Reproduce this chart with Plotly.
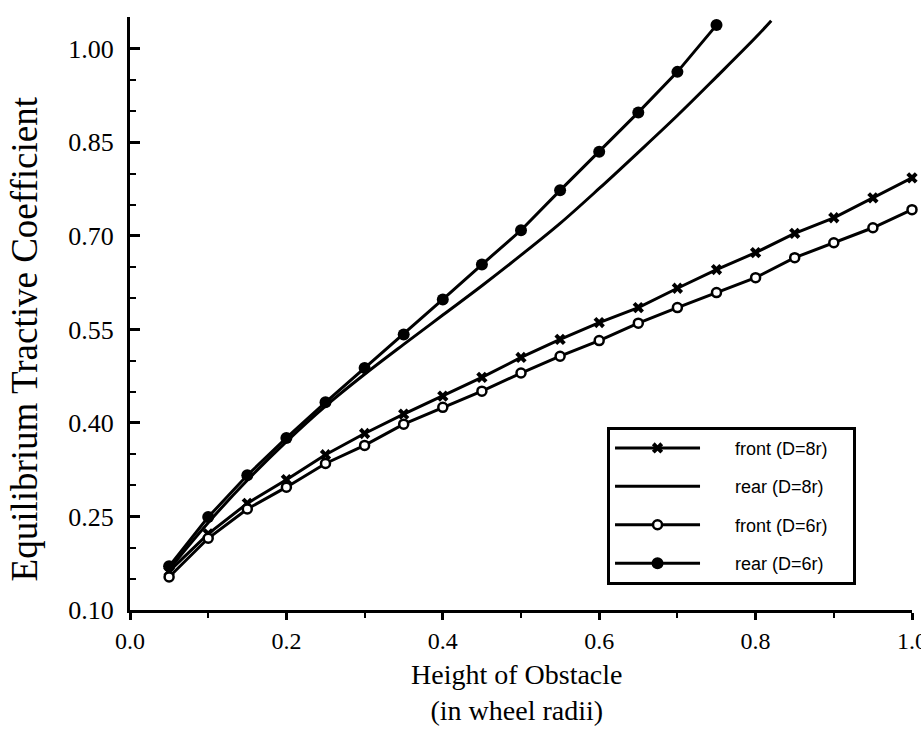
import plotly.graph_objects as go

# ---- data ----
x_front = [0.05, 0.10, 0.15, 0.20, 0.25, 0.30, 0.35, 0.40, 0.45, 0.50,
           0.55, 0.60, 0.65, 0.70, 0.75, 0.80, 0.85, 0.90, 0.95, 1.00]
front_d8 = [0.162, 0.222, 0.271, 0.309, 0.349, 0.383, 0.414, 0.443, 0.473, 0.505,
            0.534, 0.561, 0.585, 0.616, 0.646, 0.673, 0.704, 0.729, 0.761, 0.793]
front_d6 = [0.153, 0.215, 0.262, 0.297, 0.335, 0.364, 0.398, 0.425, 0.451, 0.480,
            0.507, 0.532, 0.560, 0.585, 0.609, 0.633, 0.665, 0.689, 0.713, 0.742]

x_rear8 = [0.05, 0.10, 0.15, 0.20, 0.25, 0.30, 0.35, 0.40, 0.45, 0.50,
           0.55, 0.60, 0.65, 0.70, 0.75, 0.80, 0.82]
rear_d8 = [0.165, 0.240, 0.308, 0.370, 0.427, 0.478, 0.526, 0.573, 0.620, 0.669,
           0.720, 0.776, 0.834, 0.893, 0.955, 1.018, 1.045]

x_rear6 = [0.05, 0.10, 0.15, 0.20, 0.25, 0.30, 0.35, 0.40, 0.45, 0.50,
           0.55, 0.60, 0.65, 0.70, 0.75]
rear_d6 = [0.170, 0.249, 0.316, 0.376, 0.433, 0.488, 0.542, 0.598, 0.654, 0.709,
           0.773, 0.835, 0.898, 0.963, 1.038]

series_names = ["front (D=8r)", "rear (D=8r)", "front (D=6r)", "rear (D=6r)"]

x_ticks = [0.0, 0.2, 0.4, 0.6, 0.8, 1.0]
x_ticklabels = ["0.0", "0.2", "0.4", "0.6", "0.8", "1.0"]
y_ticks = [0.10, 0.25, 0.40, 0.55, 0.70, 0.85, 1.00]
y_ticklabels = ["0.10", "0.25", "0.40", "0.55", "0.70", "0.85", "1.00"]

SERIF = "Liberation Serif, Times New Roman, serif"
LINE_W = 3
PAD = "\u00a0" * 6  # gap between legend sample and label
TAIL = "\u00a0" * 4


def legend_name(n):
    return PAD + n + TAIL


fig = go.Figure()
fig.add_trace(go.Scatter(
    x=x_front, y=front_d8, mode="lines+markers", name=legend_name(series_names[0]),
    line=dict(color="black", width=LINE_W),
    marker=dict(symbol="x", size=10, color="black", line=dict(width=0)),
    cliponaxis=False, legendgroup="a"))
fig.add_trace(go.Scatter(
    x=x_rear8, y=rear_d8, mode="lines", name=legend_name(series_names[1]),
    line=dict(color="black", width=LINE_W, shape="spline"),
    cliponaxis=False, legendgroup="b"))
fig.add_trace(go.Scatter(
    x=x_front, y=front_d6, mode="lines+markers", name=legend_name(series_names[2]),
    line=dict(color="black", width=LINE_W),
    marker=dict(symbol="circle", size=9, color="white", line=dict(color="black", width=2.5)),
    cliponaxis=False, legendgroup="c"))
fig.add_trace(go.Scatter(
    x=x_rear6, y=rear_d6, mode="lines+markers", name=legend_name(series_names[3]),
    line=dict(color="black", width=LINE_W),
    marker=dict(symbol="circle", size=12, color="black"),
    cliponaxis=False, legendgroup="d"))

fig.update_layout(
    width=921, height=739,
    margin=dict(l=130, r=9, t=17, b=129, autoexpand=False),
    paper_bgcolor="white", plot_bgcolor="white",
    showlegend=True,
    legend=dict(
        x=0.61, y=0.309, xanchor="left", yanchor="top",
        bordercolor="black", borderwidth=3, bgcolor="white",
        font=dict(family="Liberation Sans Narrow, Arial Narrow, Liberation Sans", size=18, color="black"),
        itemwidth=85, tracegroupgap=12, traceorder="grouped",
    ),
    xaxis=dict(
        range=[0, 1.0], tickvals=x_ticks, ticktext=x_ticklabels,
        ticks="outside", ticklen=7, tickwidth=3, tickcolor="black",
        minor=dict(dtick=0.1, tick0=0, ticks="outside", ticklen=5, tickwidth=2, tickcolor="black"),
        showline=True, linecolor="black", linewidth=3,
        showgrid=False, zeroline=False, ticklabeloverflow="allow", automargin=False,
        tickfont=dict(family=SERIF, size=24, color="black"),
    ),
    yaxis=dict(
        range=[0.10, 1.051], tickvals=y_ticks, ticktext=y_ticklabels,
        ticks="inside", ticklen=10, tickwidth=3, tickcolor="black",
        minor=dict(dtick=0.05, tick0=0.10, ticks="inside", ticklen=6, tickwidth=2, tickcolor="black"),
        showline=True, linecolor="black", linewidth=3,
        showgrid=False, zeroline=False, ticklabelstandoff=8, automargin=False,
        tickfont=dict(family=SERIF, size=26, color="black"),
    ),
    annotations=[
        dict(text="Equilibrium Tractive Coefficient", xref="paper", yref="paper",
             x=-0.135, y=(610 - 339) / 593, textangle=-90, showarrow=False,
             xanchor="center", yanchor="middle",
             font=dict(family=SERIF, size=37, color="black")),
        dict(text="Height of Obstacle<br>(in wheel radii)", xref="paper", yref="paper",
             x=(517 - 130) / 782, y=-(692 - 610) / 593, showarrow=False,
             xanchor="center", yanchor="middle",
             font=dict(family=SERIF, size=28, color="black")),
    ],
)

fig.write_html("out.html")
